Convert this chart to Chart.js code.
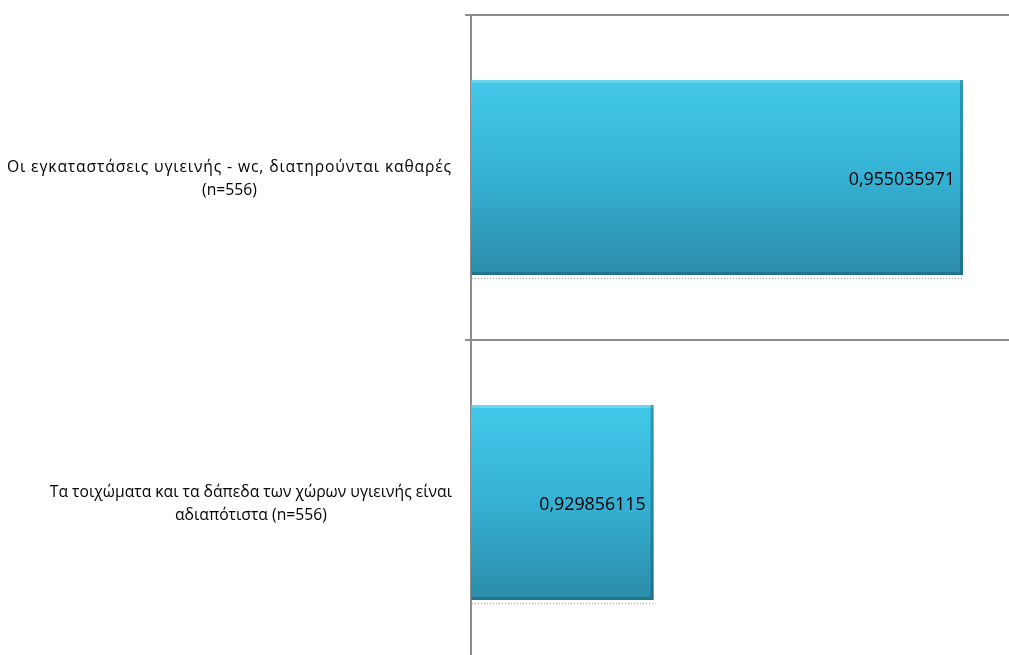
<!DOCTYPE html>
<html>
<head>
<meta charset="utf-8">
<title>Χώροι υγιεινής</title>
<script src="https://cdn.jsdelivr.net/npm/chart.js@4.4.1/dist/chart.umd.min.js"></script>
<style>
    html, body { margin: 0; padding: 0; background: #ffffff; overflow: hidden; }
    #wrap { position: relative; width: 1024px; height: 665px; }
</style>
</head>
<body>
<div id="wrap"><canvas id="chart"></canvas></div>
<script>
// Data
const categories = [
    ["Οι εγκαταστάσεις υγιεινής - wc, διατηρούνται καθαρές", "(n=556)"],
    ["Τα τοιχώματα και τα δάπεδα των χώρων υγιεινής είναι", "αδιαπότιστα (n=556)"]
];
const values = [0.955035971, 0.929856115];
const axisMin = 0.915;
const axisMax = 0.96;

const gridColor = "#8c8c8c";
const labelFont = "15.7px 'Open Sans'";
const valueFont = "17.8px 'Open Sans'";
// the first label is spread out a little in the original
const labelSpacing = ["0.85px", "0px"];

// Vertical gradient for each bar, built from the category scale
function barGradient(context) {
    const chart = context.chart;
    const yScale = chart.scales.y;
    if (!yScale || context.dataIndex === undefined) return "#36b2d5";
    const center = yScale.getPixelForValue(context.dataIndex);
    const band = (yScale.bottom - yScale.top) / categories.length;
    if (!isFinite(center) || !isFinite(band) || band <= 0) return "#36b2d5";
    const half = band * 0.6 / 2;
    const g = chart.ctx.createLinearGradient(0, center - half, 0, center + half);
    g.addColorStop(0, "#42c8ea");
    g.addColorStop(0.45, "#36b4d8");
    g.addColorStop(1, "#2b8ca8");
    return g;
}

// Bevel, dotted shadow and value labels
const barDecor = {
    id: "barDecor",
    afterDatasetsDraw(chart) {
        const ctx = chart.ctx;
        const meta = chart.getDatasetMeta(0);
        meta.data.forEach((bar, i) => {
            // bars start at value 0, far left; the chart area clips them
            const left = Math.max(bar.base, chart.chartArea.left) + 1;
            const right = bar.x;
            const top = bar.y - bar.height / 2;
            const bottom = bar.y + bar.height / 2;
            ctx.save();
            ctx.fillStyle = "rgba(255,255,255,0.22)";
            ctx.fillRect(left, top, right - left, 3);
            ctx.fillStyle = "rgba(10,60,80,0.35)";
            ctx.fillRect(right - 3, top, 3, bottom - top);
            ctx.fillStyle = "rgba(10,60,80,0.3)";
            ctx.fillRect(left, bottom - 3, right - left - 3, 3);

            ctx.strokeStyle = "#a0a0a0";
            ctx.lineWidth = 1;
            ctx.setLineDash([1, 2]);
            ctx.beginPath();
            ctx.moveTo(left, bottom + 3.5);
            ctx.lineTo(right, bottom + 3.5);
            ctx.stroke();
            ctx.setLineDash([]);

            ctx.fillStyle = "#000000";
            ctx.font = valueFont;
            ctx.textAlign = "right";
            ctx.textBaseline = "middle";
            ctx.fillText(String(values[i]).replace(".", ","), right - 8, bar.y + 2);
            ctx.restore();
        });
    }
};

// Category labels: each label centred on itself, right edge next to the axis
const categoryLabels = {
    id: "categoryLabels",
    afterDraw(chart) {
        const ctx = chart.ctx;
        const yScale = chart.scales.y;
        ctx.save();
        ctx.font = labelFont;
        ctx.fillStyle = "#000000";
        ctx.textAlign = "center";
        ctx.textBaseline = "middle";
        categories.forEach((lines, i) => {
            ctx.letterSpacing = labelSpacing[i];
            const widest = Math.max(...lines.map(l => ctx.measureText(l).width));
            const cx = yScale.right - 19 - widest / 2;
            const cy = yScale.getPixelForValue(i) + 2;
            lines.forEach((line, k) => {
                ctx.letterSpacing = k === 0 ? labelSpacing[i] : "0px";
                ctx.fillText(line, cx, cy + (k - (lines.length - 1) / 2) * 23);
            });
        });
        ctx.restore();
    }
};

const chart = new Chart(document.getElementById("chart"), {
    type: "bar",
    data: {
        labels: categories,
        datasets: [{
            data: values,
            backgroundColor: barGradient,
            borderWidth: 0,
            barPercentage: 0.6,
            categoryPercentage: 1
        }]
    },
    options: {
        indexAxis: "y",
        responsive: true,
        maintainAspectRatio: false,
        animation: false,
        layout: { padding: { top: 15, right: 0, bottom: 0, left: 0 } },
        plugins: {
            legend: { display: false },
            tooltip: { enabled: false }
        },
        scales: {
            x: {
                type: "linear",
                min: axisMin,
                max: axisMax,
                display: false
            },
            y: {
                grid: {
                    offset: true,
                    color: gridColor,
                    lineWidth: 2,
                    tickLength: 6
                },
                border: { color: gridColor, width: 2 },
                ticks: { display: false },
                afterFit(scale) {
                    scale.width = 471;
                }
            }
        }
    },
    plugins: [barDecor, categoryLabels]
});
</script>
</body>
</html>
